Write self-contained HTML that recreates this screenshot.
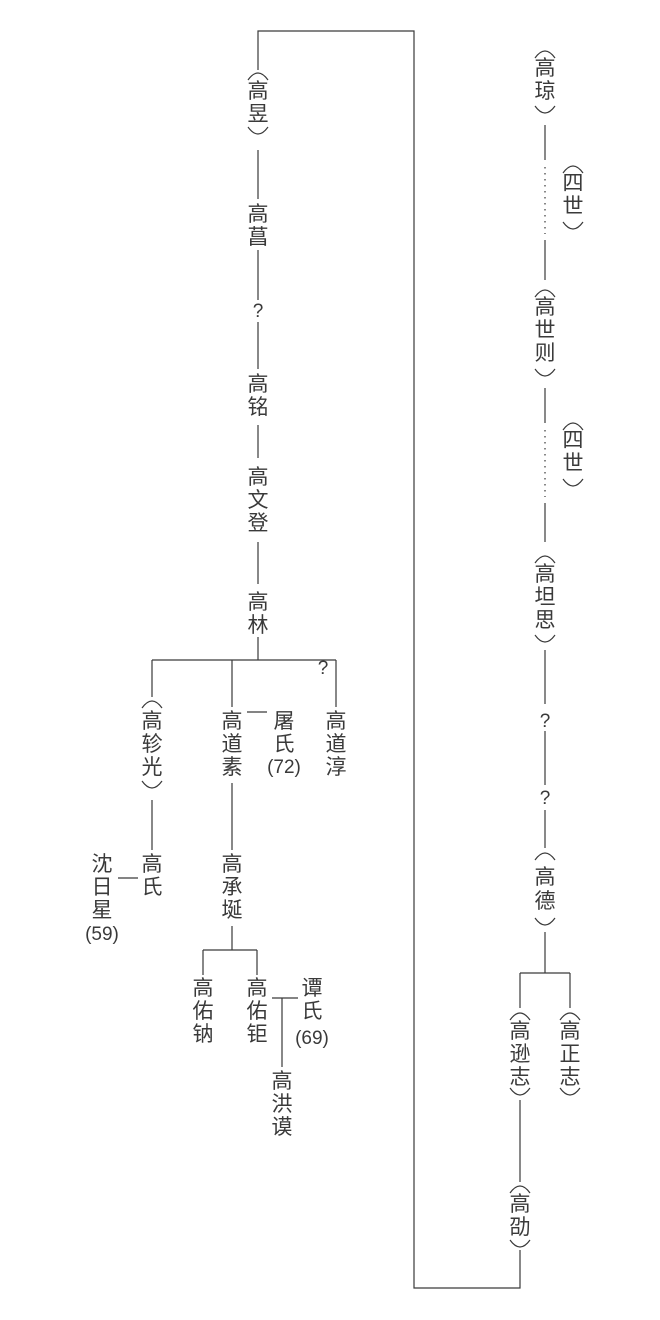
<!DOCTYPE html>
<html><head><meta charset="utf-8"><style>
html,body{margin:0;padding:0;background:#fff;}
svg{display:block;}
text{font-family:"Liberation Sans","Noto Sans CJK SC",sans-serif;fill:#3a3a3a;}
.c{font-size:21px;}
.n{font-family:"Liberation Serif","Noto Serif CJK SC",serif;font-size:19px;}
</style></head><body>
<svg width="660" height="1320" viewBox="0 0 660 1320" xmlns="http://www.w3.org/2000/svg">
<g stroke="#3a3a3a" stroke-width="1.2" fill="none">
<polyline points="258,70 258,31 414,31 414,1288 520,1288 520,1250"/>
<line x1="258" y1="150" x2="258" y2="199"/>
<line x1="258" y1="250" x2="258" y2="300"/>
<line x1="258" y1="322" x2="258" y2="369"/>
<line x1="258" y1="425" x2="258" y2="458"/>
<line x1="258" y1="542" x2="258" y2="584"/>
<line x1="258" y1="637" x2="258" y2="660"/>
<line x1="152" y1="660" x2="336" y2="660"/>
<line x1="152" y1="660" x2="152" y2="697"/>
<line x1="232" y1="660" x2="232" y2="707"/>
<line x1="336" y1="660" x2="336" y2="707"/>
<line x1="247" y1="712" x2="267" y2="712"/>
<line x1="152" y1="800" x2="152" y2="850"/>
<line x1="232" y1="783" x2="232" y2="850"/>
<line x1="118" y1="878" x2="138" y2="878"/>
<line x1="232" y1="926" x2="232" y2="950"/>
<line x1="203" y1="950" x2="257" y2="950"/>
<line x1="203" y1="950" x2="203" y2="975"/>
<line x1="257" y1="950" x2="257" y2="975"/>
<line x1="272" y1="998" x2="298" y2="998"/>
<line x1="282" y1="998" x2="282" y2="1067"/>
<line x1="545" y1="125" x2="545" y2="160"/>
<line x1="545" y1="167" x2="545" y2="234" stroke-dasharray="1.5 4.5"/>
<line x1="545" y1="240" x2="545" y2="280"/>
<line x1="545" y1="388" x2="545" y2="423"/>
<line x1="545" y1="430" x2="545" y2="497" stroke-dasharray="1.5 4.5"/>
<line x1="545" y1="503" x2="545" y2="542"/>
<line x1="545" y1="650" x2="545" y2="704"/>
<line x1="545" y1="731" x2="545" y2="785"/>
<line x1="545" y1="810" x2="545" y2="848"/>
<line x1="545" y1="932" x2="545" y2="973"/>
<line x1="520" y1="973" x2="570" y2="973"/>
<line x1="520" y1="973" x2="520" y2="1008"/>
<line x1="570" y1="973" x2="570" y2="1008"/>
<line x1="520" y1="1100" x2="520" y2="1182"/>
<path d="M248,80 Q258,66 268,80"/><path d="M248,127 Q258,141 268,127"/>
<path d="M142,708 Q152,694 162,708"/><path d="M142,781 Q152,795 162,781"/>
<path d="M535,58 Q545,44 555,58"/><path d="M535,106 Q545,120 555,106"/>
<path d="M563,173 Q573,159 583,173"/><path d="M563,222 Q573,236 583,222"/>
<path d="M535,297 Q545,283 555,297"/><path d="M535,369 Q545,383 555,369"/>
<path d="M563,430 Q573,416 583,430"/><path d="M563,479 Q573,493 583,479"/>
<path d="M535,563 Q545,549 555,563"/><path d="M535,635 Q545,649 555,635"/>
<path d="M535,860 Q545,846 555,860"/><path d="M535,918 Q545,932 555,918"/>
<path d="M510,1020 Q520,1006 530,1020"/><path d="M510,1088 Q520,1102 530,1088"/>
<path d="M560,1020 Q570,1006 580,1020"/><path d="M560,1088 Q570,1102 580,1088"/>
<path d="M510,1193 Q520,1179 530,1193"/><path d="M510,1240 Q520,1254 530,1240"/>
</g>
<g class="c" text-anchor="middle">
<text x="258" y="98">高</text><text x="258" y="121">昱</text>
<text x="258" y="221">高</text><text x="258" y="244">菖</text>
<text x="258" y="391">高</text><text x="258" y="414">铭</text>
<text x="258" y="484">高</text><text x="258" y="507">文</text><text x="258" y="530">登</text>
<text x="258" y="609">高</text><text x="258" y="632">林</text>
<text x="152" y="728">高</text><text x="152" y="751">轸</text><text x="152" y="774">光</text>
<text x="232" y="728">高</text><text x="232" y="751">道</text><text x="232" y="774">素</text>
<text x="284" y="728">屠</text><text x="284" y="751">氏</text>
<text x="336" y="728">高</text><text x="336" y="751">道</text><text x="336" y="774">淳</text>
<text x="152" y="871">高</text><text x="152" y="894">氏</text>
<text x="102" y="871">沈</text><text x="102" y="894">日</text><text x="102" y="917">星</text>
<text x="232" y="871">高</text><text x="232" y="894">承</text><text x="232" y="917">埏</text>
<text x="203" y="995">高</text><text x="203" y="1018">佑</text><text x="203" y="1041">钠</text>
<text x="257" y="995">高</text><text x="257" y="1018">佑</text><text x="257" y="1041">钜</text>
<text x="312" y="995">谭</text><text x="312" y="1018">氏</text>
<text x="282" y="1088">高</text><text x="282" y="1111">洪</text><text x="282" y="1134">谟</text>
<text x="545" y="75">高</text><text x="545" y="98">琼</text>
<text x="573" y="190">四</text><text x="573" y="213">世</text>
<text x="545" y="314">高</text><text x="545" y="337">世</text><text x="545" y="360">则</text>
<text x="573" y="447">四</text><text x="573" y="470">世</text>
<text x="545" y="581">高</text><text x="545" y="604">坦</text><text x="545" y="627">思</text>
<text x="545" y="884">高</text><text x="545" y="908">德</text>
<text x="520" y="1038">高</text><text x="520" y="1061">逊</text><text x="520" y="1084">志</text>
<text x="570" y="1038">高</text><text x="570" y="1061">正</text><text x="570" y="1084">志</text>
<text x="520" y="1211">高</text><text x="520" y="1234">劭</text>
</g>
<g class="n" text-anchor="middle">
<text x="258" y="317">?</text>
<text x="323" y="674">?</text>
<text x="284" y="773">(72)</text>
<text x="102" y="940">(59)</text>
<text x="312" y="1044">(69)</text>
<text x="545" y="727">?</text>
<text x="545" y="804">?</text>
</g>
</svg>
</body></html>
